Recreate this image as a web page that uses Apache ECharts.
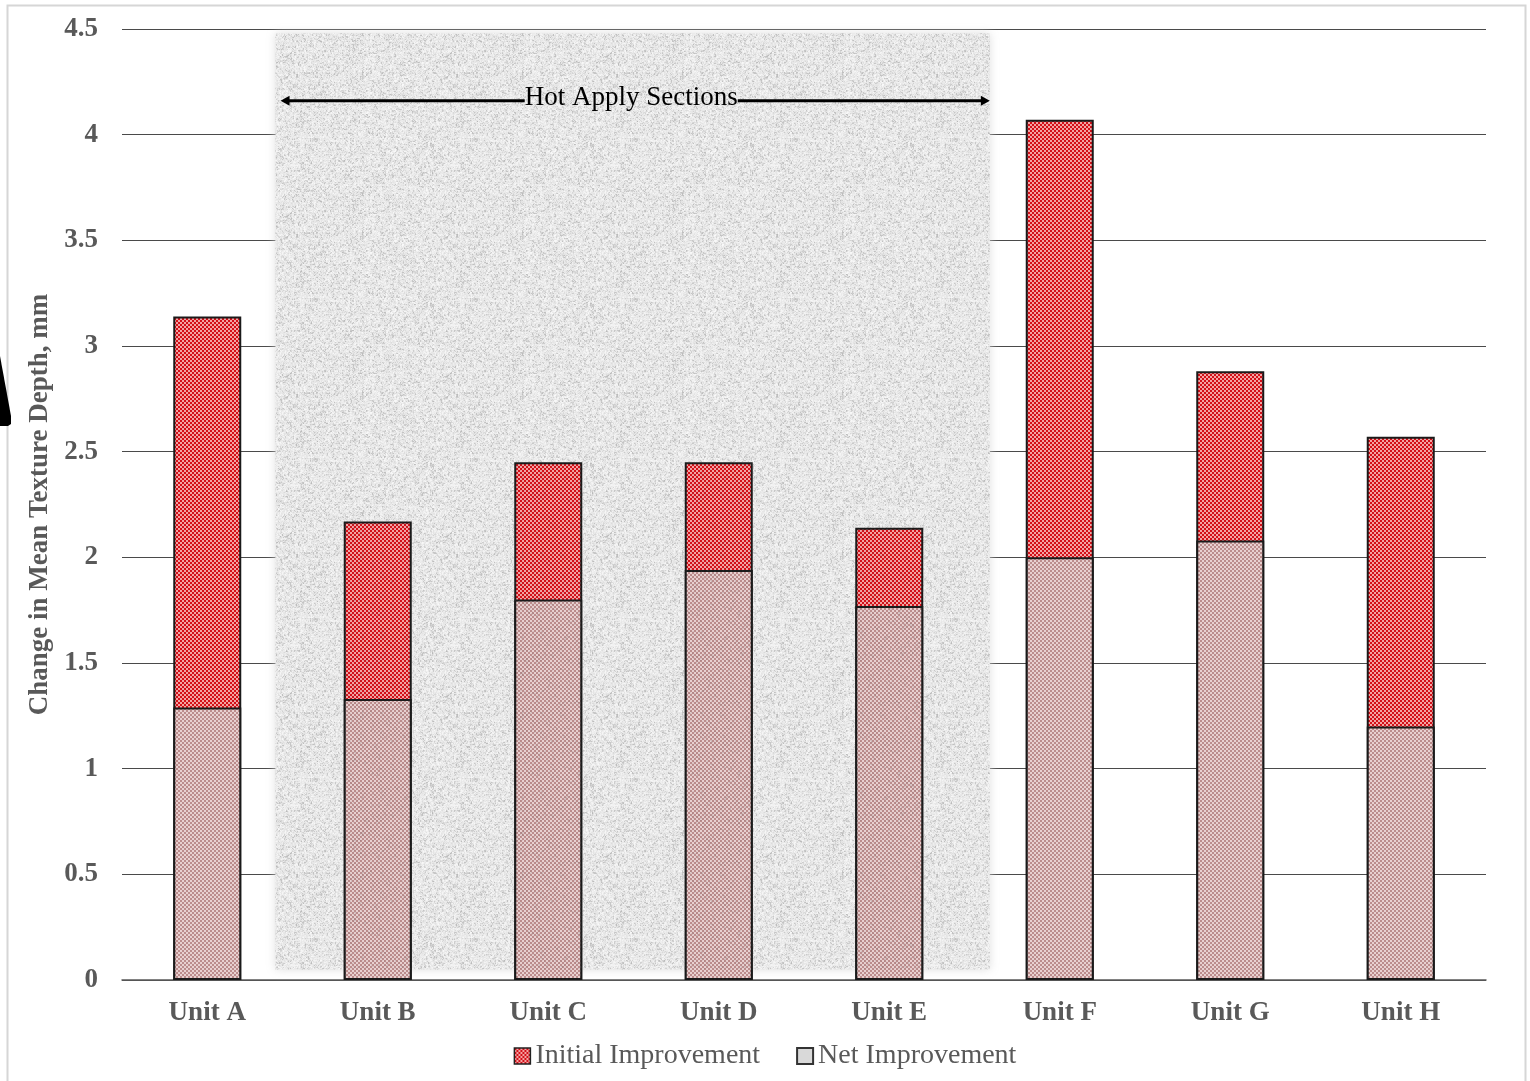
<!DOCTYPE html>
<html>
<head>
<meta charset="utf-8">
<script src="https://cdn.jsdelivr.net/npm/echarts@6/dist/echarts.min.js"></script>
<style>
  html, body { margin: 0; padding: 0; background: #fff; }
  #chart { width: 1530px; height: 1081px; }
</style>
</head>
<body>
<div id="chart"></div>
<script>
// Units measured
const units = ['Unit A', 'Unit B', 'Unit C', 'Unit D', 'Unit E', 'Unit F', 'Unit G', 'Unit H'];
// Change in mean texture depth (mm) right after treatment
const initialImprovement = [3.14, 2.17, 2.45, 2.45, 2.14, 4.07, 2.88, 2.57];
// Change in mean texture depth (mm) remaining later on
const netImprovement = [1.29, 1.33, 1.80, 1.94, 1.77, 2.00, 2.08, 1.20];
// Y axis range
const yTicks = { min: 0, max: 4.5, step: 0.5 };
// Hot apply band: category-index span and value span
const hotApplyBand = { from: 0.4, to: 4.59, low: 0.05, high: 4.48 };
const hotApplyArrow = { from: 0.43, to: 4.59, at: 4.16, text: 'Hot Apply Sections' };

const SERIF = '"Liberation Serif", "Times New Roman", serif';
const GREY_TEXT = '#595959';

// Small deterministic hash for texture pixels
function hash(i) {
  let x = (i * 2654435761) >>> 0;
  x ^= x >>> 15; x = Math.imul(x, 2246822519) >>> 0;
  x ^= x >>> 13; x = Math.imul(x, 3266489917) >>> 0;
  x ^= x >>> 16;
  return (x >>> 0) / 4294967296;
}

// Small checkerboard texture used for the bars
function checkerPattern(dark, light) {
  const c = document.createElement('canvas');
  c.width = 4; c.height = 4;
  const g = c.getContext('2d');
  for (let y = 0; y < 4; y++) {
    for (let x = 0; x < 4; x++) {
      const on = (((x >> 1) + (y >> 1)) % 2) === 0;
      g.fillStyle = on ? dark : light;
      g.fillRect(x, y, 1, 1);
    }
  }
  return c;
}

// Granular grey texture for the shaded band
function grainPattern(alphaOnly) {
  const n = 160;
  const c = document.createElement('canvas');
  c.width = n; c.height = n;
  const g = c.getContext('2d');
  const img = g.createImageData(n, n);
  for (let y = 0; y < n; y++) {
    for (let x = 0; x < n; x++) {
      const a = hash(y * n + x);
      const b = hash(((y >> 1) * n + (x >> 1)) + 99991);
      const v = 0.55 * a + 0.45 * b;
      const k = (y * n + x) * 4;
      if (alphaOnly) {
        img.data[k] = 90; img.data[k + 1] = 90; img.data[k + 2] = 90;
        img.data[k + 3] = v > 0.62 ? Math.round((v - 0.62) * 160) : 0;
      } else {
        const shade = Math.round(250 - v * 38);
        img.data[k] = shade; img.data[k + 1] = shade; img.data[k + 2] = shade;
        img.data[k + 3] = 255;
      }
    }
  }
  g.putImageData(img, 0, 0);
  return c;
}

const redFill = { image: checkerPattern('#d40f18', '#f3a3a3'), repeat: 'repeat' };
const netFill = { image: checkerPattern('#bb8c8c', '#e8d0d0'), repeat: 'repeat' };
const grainFill = { image: grainPattern(false), repeat: 'repeat' };
const grainSpecks = { image: grainPattern(true), repeat: 'repeat' };

function textWidth(str, font) {
  const c = document.createElement('canvas').getContext('2d');
  c.font = font;
  return c.measureText(str).width;
}

const chart = echarts.init(document.getElementById('chart'), null, { renderer: 'canvas' });

const bandRect = (params, api) => {
  const p0 = api.coord([hotApplyBand.from, hotApplyBand.high]);
  const p1 = api.coord([hotApplyBand.to, hotApplyBand.low]);
  return { x: p0[0], y: p0[1], width: p1[0] - p0[0], height: p1[1] - p0[1] };
};

const arrowFont = '27px ' + SERIF;

const option = {
  animation: false,
  backgroundColor: '#ffffff',
  grid: { left: 122, right: 44, top: 29, bottom: 101, containLabel: false },
  legend: {
    bottom: 6,
    left: 'center',
    itemWidth: 16,
    itemHeight: 16,
    itemGap: 36,
    textStyle: { fontFamily: SERIF, fontSize: 28, color: GREY_TEXT },
    data: [
      { name: 'Initial Improvement', icon: 'rect', itemStyle: { color: redFill, borderColor: '#222', borderWidth: 1.5 } },
      { name: 'Net Improvement', icon: 'rect', itemStyle: { color: '#d9d9d9', borderColor: '#333', borderWidth: 2 } }
    ]
  },
  xAxis: [
    {
      type: 'category',
      data: units,
      axisTick: { show: false },
      axisLine: { show: true, lineStyle: { color: '#5a5a5a', width: 1.5 } },
      axisLabel: { margin: 20, fontFamily: SERIF, fontSize: 27, fontWeight: 'bold', color: GREY_TEXT }
    },
    { type: 'value', min: -0.5, max: 7.5, show: false }
  ],
  yAxis: {
    type: 'value',
    min: yTicks.min,
    max: yTicks.max,
    interval: yTicks.step,
    name: 'Change in Mean Texture Depth, mm',
    nameLocation: 'middle',
    nameGap: 53,
    nameTextStyle: { fontFamily: SERIF, fontSize: 27, fontWeight: 'bold', color: GREY_TEXT },
    axisLine: { show: false },
    axisTick: { show: false },
    axisLabel: { margin: 24, fontFamily: SERIF, fontSize: 27, fontWeight: 'bold', color: GREY_TEXT },
    splitLine: { lineStyle: { color: '#4a4a4a', width: 1 } }
  },
  series: [
    {
      // shaded band behind the hot-apply units
      type: 'custom',
      name: 'band',
      xAxisIndex: 1,
      z: 1,
      silent: true,
      data: [[0]],
      renderItem: (params, api) => ({
        type: 'rect',
        shape: bandRect(params, api),
        style: { fill: grainFill, shadowBlur: 10, shadowColor: 'rgba(220,220,220,0.9)' }
      })
    },
    {
      name: 'Initial Improvement',
      type: 'bar',
      z: 3,
      barWidth: 68,
      barGap: '-100%',
      itemStyle: { color: redFill, borderColor: '#1a1a1a', borderWidth: 2 },
      data: initialImprovement
    },
    {
      name: 'Net Improvement',
      type: 'bar',
      z: 4,
      barWidth: 68,
      barGap: '-100%',
      itemStyle: { color: netFill, borderColor: '#1a1a1a', borderWidth: 2 },
      data: netImprovement
    },
    {
      // grain showing through the bars inside the band, plus the arrow annotation
      type: 'custom',
      name: 'overlay',
      xAxisIndex: 1,
      z: 6,
      silent: true,
      data: [[0]],
      renderItem: (params, api) => {
        const r = bandRect(params, api);
        const a0 = api.coord([hotApplyArrow.from, hotApplyArrow.at]);
        const a1 = api.coord([hotApplyArrow.to, hotApplyArrow.at]);
        const cx = (a0[0] + a1[0]) / 2 - 4;
        const tw = textWidth(hotApplyArrow.text, arrowFont);
        const tl = cx - tw / 2, tr = cx + tw / 2;
        const y = a0[1];
        const head = 9;
        return {
          type: 'group',
          children: [
            { type: 'rect', shape: r, style: { fill: grainSpecks, opacity: 0.9 } },
            { type: 'line', shape: { x1: a0[0] + 4, y1: y, x2: tl, y2: y }, style: { stroke: '#000', lineWidth: 3 } },
            { type: 'line', shape: { x1: tr, y1: y, x2: a1[0] - 4, y2: y }, style: { stroke: '#000', lineWidth: 3 } },
            { type: 'polygon', shape: { points: [[a0[0], y], [a0[0] + head, y - 5], [a0[0] + head, y + 5]] }, style: { fill: '#000' } },
            { type: 'polygon', shape: { points: [[a1[0], y], [a1[0] - head, y - 5], [a1[0] - head, y + 5]] }, style: { fill: '#000' } },
            { type: 'text', x: cx, y: y - 3, style: { text: hotApplyArrow.text, font: arrowFont, fill: '#000', align: 'center', verticalAlign: 'middle' } }
          ]
        };
      }
    }
  ],
  graphic: [
    // frame around the figure
    { type: 'rect', z: 0, silent: true, shape: { x: 7.5, y: 5.5, width: 1518, height: 1090 }, style: { fill: null, stroke: '#d6d6d6', lineWidth: 2 } },
    // dark sliver at the left edge of the figure
    { type: 'polygon', z: 10, silent: true, shape: { points: [[0, 356], [11, 416], [11, 424], [8, 426], [0, 426]] }, style: { fill: '#000' } }
  ]
};

chart.setOption(option);
</script>
</body>
</html>
